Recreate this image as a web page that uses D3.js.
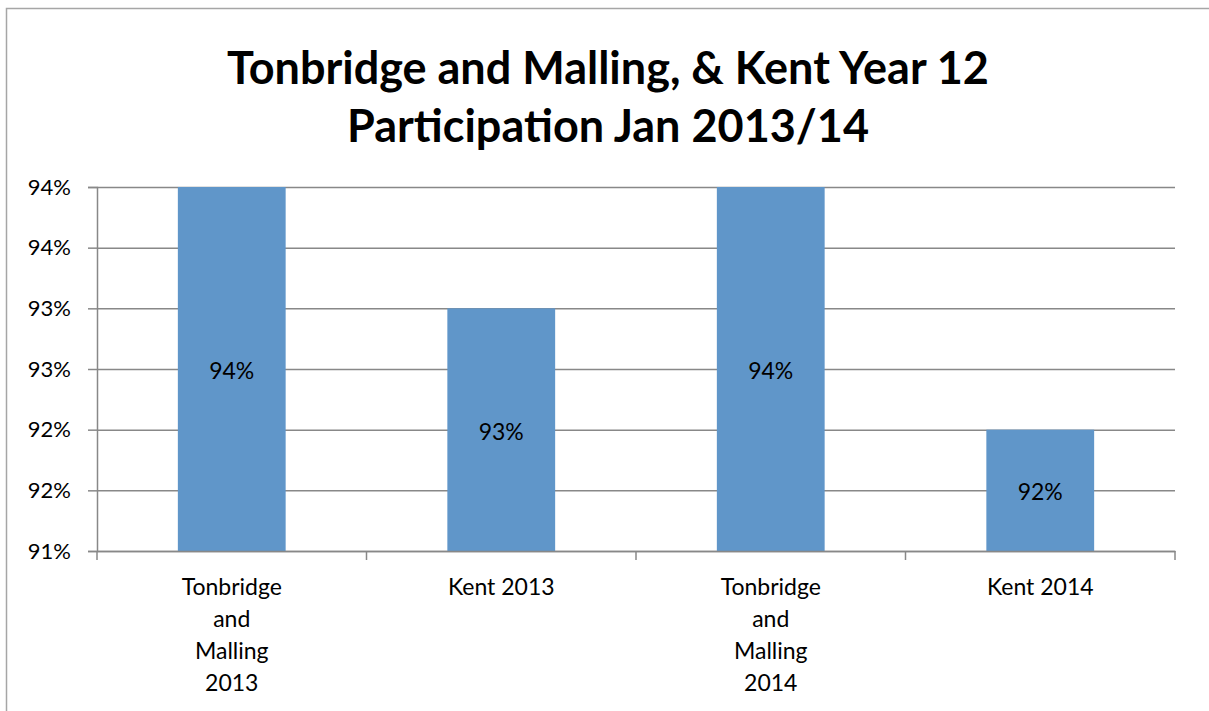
<!DOCTYPE html>
<html>
<head>
<meta charset="utf-8">
<script src="https://cdn.jsdelivr.net/npm/d3@7"></script>
<style>
  html, body { margin: 0; padding: 0; background: #fff; }
  svg { display: block; font-family: Lato, "Open Sans", sans-serif; }
</style>
</head>
<body>
<svg id="chart" width="1209" height="711"></svg>
<script>
const categories = [
  ["Tonbridge", "and", "Malling", "2013"],
  ["Kent 2013"],
  ["Tonbridge", "and", "Malling", "2014"],
  ["Kent 2014"]
];
const values = [94, 93, 94, 92];
const yTicks = [91, 91.5, 92, 92.5, 93, 93.5, 94];
const titleLines = ["Tonbridge and Malling, & Kent Year 12", "Participation Jan 2013/14"];

const svg = d3.select("#chart");
const W = 1209, H = 711;
const plot = { left: 97, right: 1175, top: 187, bottom: 551 };

// outer border
svg.append("rect").attr("x", 6.5).attr("y", 8.5).attr("width", W + 10).attr("height", H + 10)
  .attr("fill", "#fff").attr("stroke", "#a6a6a6").attr("stroke-width", 1.5);

const x = d3.scaleBand().domain(d3.range(categories.length))
  .range([plot.left, plot.right]).paddingInner(0.6).paddingOuter(0.3);
const xOuter = d3.scaleBand().domain(d3.range(categories.length))
  .range([plot.left, plot.right]);
const y = d3.scaleLinear().domain([91, 94]).range([plot.bottom, plot.top]);

// gridlines + y axis
const yAxis = d3.axisLeft(y).tickValues(yTicks).tickSize(9).tickPadding(17)
  .tickFormat(d => Math.round(d) + "%");
const gy = svg.append("g").attr("transform", `translate(${plot.left},0)`).call(yAxis);
gy.select(".domain").attr("stroke", "#888").attr("stroke-width", 1.5);
gy.selectAll(".tick line").attr("stroke", "#888").attr("stroke-width", 1.5);
gy.selectAll(".tick text").attr("fill", "#000").attr("font-size", 22)
  .attr("font-family", "Lato, 'Open Sans', sans-serif");
gy.selectAll(".tick").append("line")
  .attr("x1", 0).attr("x2", plot.right - plot.left)
  .attr("stroke", "#888").attr("stroke-width", 1.5);

// bars
svg.append("g").selectAll("rect").data(values).join("rect")
  .attr("x", (d, i) => x(i))
  .attr("width", x.bandwidth())
  .attr("y", d => y(d))
  .attr("height", d => plot.bottom - y(d))
  .attr("fill", "#6096c9");

// data labels
svg.append("g").selectAll("text").data(values).join("text")
  .attr("x", (d, i) => x(i) + x.bandwidth() / 2)
  .attr("y", d => (y(d) + plot.bottom) / 2 + 2)
  .attr("dy", "0.35em")
  .attr("text-anchor", "middle")
  .attr("font-size", 23)
  .text(d => Math.round(d) + "%");

// x axis
const xAxis = d3.axisBottom(xOuter).tickSize(0).tickFormat("");
const gx = svg.append("g").attr("transform", `translate(0,${plot.bottom})`).call(xAxis);
gx.select(".domain").attr("stroke", "#888").attr("stroke-width", 1.5);
const bounds = d3.range(categories.length + 1).map(i => plot.left + i * xOuter.step());
gx.selectAll(".sep").data(bounds).join("line").attr("class", "sep")
  .attr("x1", d => d).attr("x2", d => d).attr("y1", 0).attr("y2", 9)
  .attr("stroke", "#888").attr("stroke-width", 1.5);

const labels = svg.append("g").selectAll("text").data(categories).join("text")
  .attr("text-anchor", "middle").attr("font-size", 23)
  .attr("x", (d, i) => xOuter(i) + xOuter.bandwidth() / 2)
  .attr("y", 595);
labels.selectAll("tspan").data(d => d).join("tspan")
  .attr("x", function () { return d3.select(this.parentNode).attr("x"); })
  .attr("dy", (d, i) => i === 0 ? 0 : 32)
  .text(d => d);

// title
svg.append("g").selectAll("text").data(titleLines).join("text")
  .attr("x", 608).attr("y", (d, i) => 84 + i * 58)
  .attr("text-anchor", "middle").attr("font-size", 45).attr("font-weight", "bold")
  .text(d => d);
</script>
</body>
</html>
